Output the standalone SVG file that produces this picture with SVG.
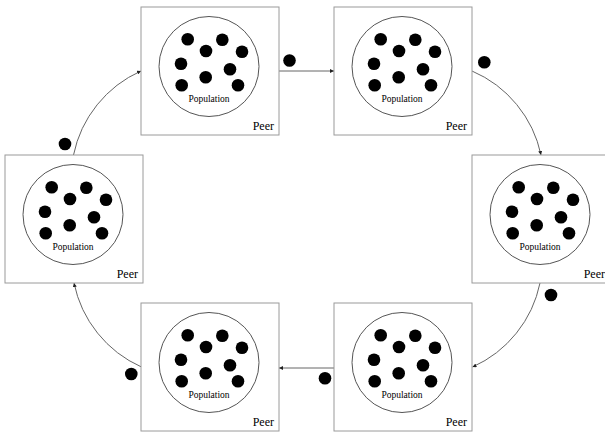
<svg xmlns="http://www.w3.org/2000/svg" xmlns:xlink="http://www.w3.org/1999/xlink" width="605" height="432" viewBox="0 0 605 432">
<defs>
<style>
.box{fill:#fff;stroke:#9a9a9a;stroke-width:1}
.pop{fill:none;stroke:#555;stroke-width:1}
.dot{fill:#000}
.conn{fill:none;stroke:#666;stroke-width:1;marker-end:url(#ah)}
.ptxt{font-family:"Liberation Serif","Times New Roman",serif;font-size:9.5px;text-anchor:middle;fill:#000}
.peer{font-family:"Liberation Serif","Times New Roman",serif;font-size:12px;text-anchor:end;fill:#000}
</style>
<marker id="ah" markerUnits="userSpaceOnUse" markerWidth="5" markerHeight="4" refX="4" refY="2" orient="auto">
<path d="M0,0 L4,2 L0,4 Z" fill="#222"/>
</marker>
<g id="shape">
<rect class="box" x="0" y="0" width="138" height="128"/>
<circle class="pop" cx="68" cy="59.5" r="50"/>
<circle class="dot" cx="46.7" cy="32.3" r="6.3"/>
<circle class="dot" cx="81.3" cy="32.7" r="6.3"/>
<circle class="dot" cx="65" cy="44" r="6.3"/>
<circle class="dot" cx="101" cy="44.7" r="6.3"/>
<circle class="dot" cx="40" cy="56.7" r="6.3"/>
<circle class="dot" cx="89" cy="62.3" r="6.3"/>
<circle class="dot" cx="64.7" cy="70.3" r="6.3"/>
<circle class="dot" cx="40.7" cy="78.3" r="6.3"/>
<circle class="dot" cx="97" cy="78.3" r="6.3"/>
</g>
</defs>
<rect width="605" height="432" fill="#fff"/>
<g id="connectors">
<path class="conn" d="M279,71 H334"/>
<path class="conn" d="M472,71 A118,118 0 0 1 541,155"/>
<path class="conn" d="M540,283 A118,118 0 0 1 472.5,367"/>
<path class="conn" d="M334,368 H279"/>
<path class="conn" d="M141.5,367 A118,118 0 0 1 74,283"/>
<path class="conn" d="M73.5,155 A118,118 0 0 1 141,71"/>
<circle class="dot" cx="289.5" cy="60.5" r="6.3"/>
<circle class="dot" cx="484.3" cy="62.3" r="6.3"/>
<circle class="dot" cx="551" cy="295" r="6.3"/>
<circle class="dot" cx="325" cy="378.3" r="6.3"/>
<circle class="dot" cx="131.3" cy="374" r="6.3"/>
<circle class="dot" cx="65" cy="144" r="6.3"/>
</g>
<g id="peer1" transform="translate(141,7)"><use xlink:href="#shape"/><text class="ptxt" x="68" y="95">Population</text><text class="peer" x="133" y="122.5">Peer</text></g>
<g id="peer2" transform="translate(334,7)"><use xlink:href="#shape"/><text class="ptxt" x="68" y="95">Population</text><text class="peer" x="133" y="122.5">Peer</text></g>
<g id="peer3" transform="translate(472,155)"><use xlink:href="#shape"/><text class="ptxt" x="68" y="95">Population</text><text class="peer" x="133" y="122.5">Peer</text></g>
<g id="peer4" transform="translate(334,303)"><use xlink:href="#shape"/><text class="ptxt" x="68" y="95">Population</text><text class="peer" x="133" y="122.5">Peer</text></g>
<g id="peer5" transform="translate(141,303)"><use xlink:href="#shape"/><text class="ptxt" x="68" y="95">Population</text><text class="peer" x="133" y="122.5">Peer</text></g>
<g id="peer6" transform="translate(5,155)"><use xlink:href="#shape"/><text class="ptxt" x="68" y="95">Population</text><text class="peer" x="133" y="122.5">Peer</text></g>
</svg>
